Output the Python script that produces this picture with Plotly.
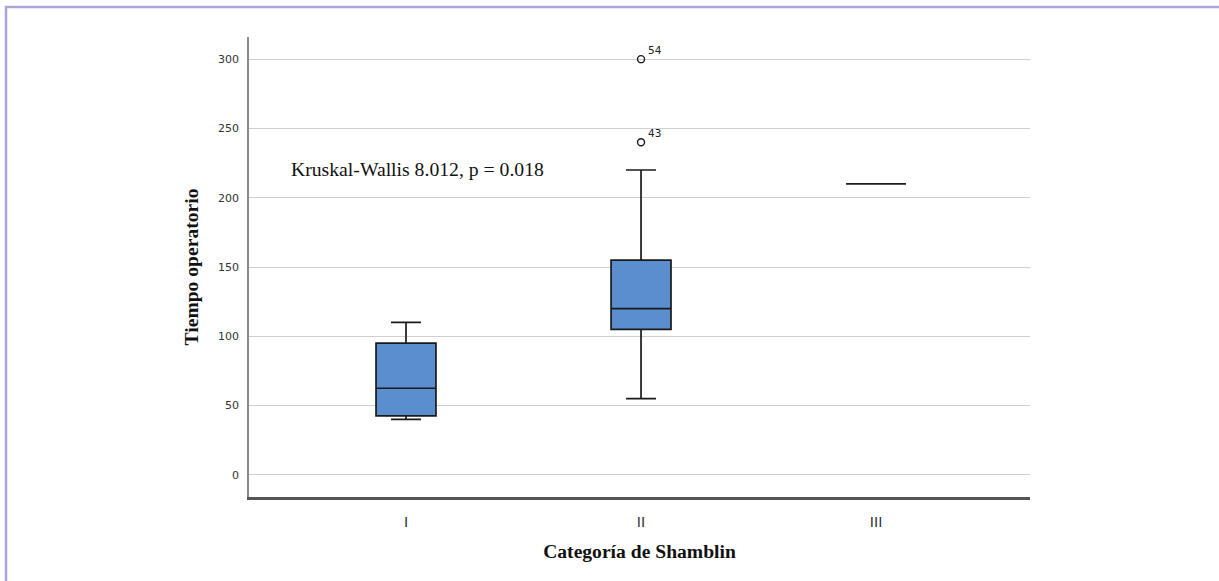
import plotly.graph_objects as go

categories = ["I", "II", "III"]
q1 = [42.5, 105, 210]
median = [62.5, 120, 210]
q3 = [95, 155, 210]
lower_whisker = [40, 55, 210]
upper_whisker = [110, 220, 210]

outlier_cat = ["II", "II"]
outlier_val = [240, 300]
outlier_id = ["43", "54"]

y_ticks = [0, 50, 100, 150, 200, 250, 300]

W, H = 1219, 581
L, R, T, B = 249, 1030, 37, 497

fig = go.Figure()
fig.add_trace(go.Box(
    x=categories, q1=q1, median=median, q3=q3,
    lowerfence=lower_whisker, upperfence=upper_whisker,
    fillcolor="#5a8ecf", line=dict(color="#1a1a1a", width=1.7),
    width=0.255, whiskerwidth=0.5, boxpoints=False, showlegend=False,
    hoverinfo="skip",
))
fig.add_trace(go.Scatter(
    x=outlier_cat, y=outlier_val, mode="markers",
    marker=dict(symbol="circle-open", size=7, color="#1a1a1a", line=dict(width=1.4)),
    showlegend=False, hoverinfo="skip",
))
annotations = []
for c, v, t in zip(outlier_cat, outlier_val, outlier_id):
    annotations.append(dict(x=c, y=v, text=t, showarrow=False, xanchor="left", yanchor="bottom",
                            xshift=5, yshift=1, font=dict(family="DejaVu Sans", size=10.5, color="#222")))
annotations.append(dict(x=0.05, y=221, xref="x", yref="y", text="Kruskal-Wallis 8.012, p = 0.018",
                        showarrow=False, xanchor="center", yanchor="middle",
                        font=dict(family="Liberation Serif", size=19.7, color="#111")))

def px_x(p):
    return (p - L) / (R - L)

def px_y(p):
    return (B - p) / (B - T)

shapes = [dict(type="path", xref="paper", yref="paper",
               path=f"M {px_x(6)},{px_y(600)} L {px_x(6)},{px_y(7)} L {px_x(1240)},{px_y(7)}",
               line=dict(color="#aaa7d8", width=2.5))]

fig.update_layout(
    width=W, height=H,
    margin=dict(l=L, r=W - R, t=T, b=H - B),
    paper_bgcolor="white", plot_bgcolor="white",
    annotations=annotations, shapes=shapes,
    xaxis=dict(
        type="category", categoryorder="array", categoryarray=categories,
        range=[-0.668, 2.655], showgrid=False, zeroline=False,
        showline=True, linecolor="#555", linewidth=2.5,
        ticks="", ticklabelstandoff=9,
        tickfont=dict(family="Liberation Sans", size=15, color="#333"),
        title=dict(text="<b>Categoría de Shamblin</b>", standoff=16,
                   font=dict(family="Liberation Serif", size=19.6, color="#111")),
    ),
    yaxis=dict(
        range=[-16, 316], tickvals=y_ticks, showgrid=True, gridcolor="#cfcfcf", gridwidth=1.3,
        zeroline=False, showline=True, linecolor="#8a8a8a", linewidth=1.5,
        ticks="", ticklabelstandoff=6,
        tickfont=dict(family="DejaVu Sans", size=11, color="#333"),
        title=dict(text="<b>Tiempo operatorio</b>", standoff=14,
                   font=dict(family="Liberation Serif", size=19.6, color="#111")),
    ),
)

fig.write_html("out.html", config={"displayModeBar": False},
               post_script="document.body.style.margin='0';document.body.style.padding='0';")
